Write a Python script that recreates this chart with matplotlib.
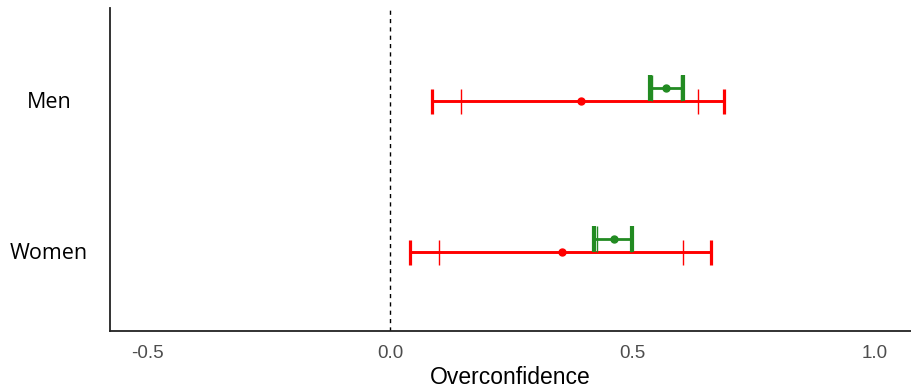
import matplotlib
matplotlib.use("Agg")
import matplotlib.pyplot as plt

groups = ["Women", "Men"]
# red series (outer interval, inner tick interval, point)
red_point = [0.355, 0.394]
red_lo = [0.041, 0.086]
red_hi = [0.662, 0.689]
red_in_lo = [0.101, 0.146]
red_in_hi = [0.604, 0.635]
# green series
green_point = [0.462, 0.569]
green_lo = [0.421, 0.536]
green_hi = [0.499, 0.604]
green_in_lo = [0.427, 0.540]
green_in_hi = [0.496, 0.600]

xticks = [-0.5, 0.0, 0.5, 1.0]
xticklabels = ["-0.5", "0.0", "0.5", "1.0"]

RED = "#FF0000"
GREEN = "#228B22"

fig = plt.figure(figsize=(9.11, 3.91), dpi=100)
ax = fig.add_axes([110 / 911, 1 - 331 / 391, (911 - 110) / 911, (331 - 8) / 391])

pos = [1, 2]
red_y = [p - 0.006 for p in pos]
green_y = [p + 0.08 for p in pos]

for i in range(len(groups)):
    # red
    ax.errorbar([red_point[i]], [red_y[i]],
                xerr=[[red_point[i] - red_lo[i]], [red_hi[i] - red_point[i]]],
                fmt="o", color=RED, ms=5, elinewidth=2.1, capsize=9, capthick=2.3, zorder=3)
    ax.plot([red_in_lo[i], red_in_hi[i]], [red_y[i], red_y[i]], ls="none",
            marker="|", ms=18, mew=1.0, color=RED, zorder=3)
    # green
    ax.errorbar([green_point[i]], [green_y[i]],
                xerr=[[green_point[i] - green_lo[i]], [green_hi[i] - green_point[i]]],
                fmt="o", color=GREEN, ms=5, elinewidth=2.0, capsize=9.5, capthick=3.0, zorder=4)
    ax.plot([green_in_lo[i], green_in_hi[i]], [green_y[i], green_y[i]], ls="none",
            marker="|", ms=19, mew=1.0, color=GREEN, zorder=4)

ax.axvline(0, color="black", ls=(0, (3, 3)), lw=1.0, zorder=1)

ax.set_xlim(-0.577, 1.074)
ax.set_ylim(0.47, 2.61)
ax.set_xticks(xticks)
ax.set_xticklabels(xticklabels, fontfamily="Liberation Sans", fontsize=13.5, color="#4D4D4D")
ax.set_yticks(pos)
ax.set_yticklabels(groups, fontfamily="Open Sans", fontsize=15.5, color="black")
ax.tick_params(axis="both", length=0)
ax.tick_params(axis="x", pad=10)
for lab in ax.get_yticklabels():
    lab.set_horizontalalignment("center")
ax.tick_params(axis="y", pad=44)

for s in ["top", "right"]:
    ax.spines[s].set_visible(False)
ax.spines["left"].set_linewidth(1.3)
ax.spines["bottom"].set_linewidth(1.3)
ax.spines["left"].set_color("#222222")
ax.spines["bottom"].set_color("#222222")

ax.set_xlabel("Overconfidence", fontfamily="Liberation Sans", fontsize=16.5, labelpad=3)

fig.savefig("out.png", dpi=100)
